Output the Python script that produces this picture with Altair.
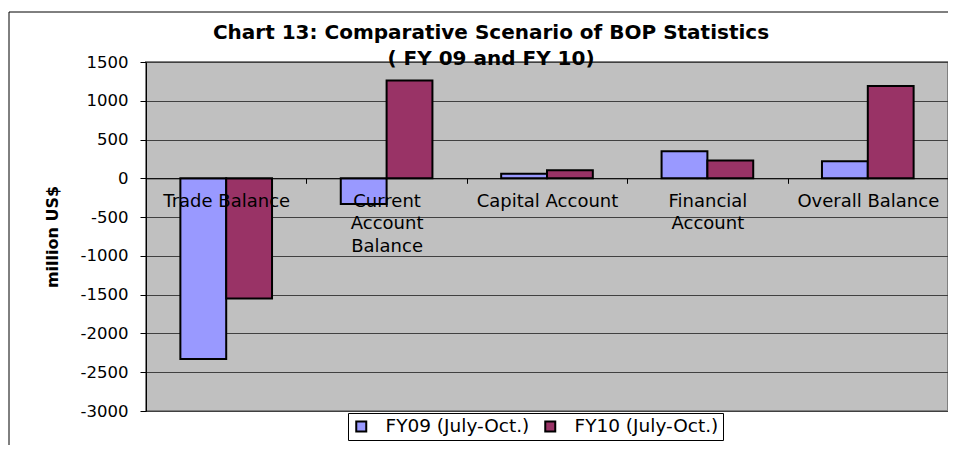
import altair as alt
import pandas as pd

categories = ["Trade Balance", "Current Account Balance", "Capital Account",
              "Financial Account", "Overall Balance"]
series = ["FY09 (July-Oct.)", "FY10 (July-Oct.)"]
fy09 = [-2330, -330, 60, 350, 220]
fy10 = [-1550, 1260, 105, 230, 1190]
y_ticks = [-3000, -2500, -2000, -1500, -1000, -500, 0, 500, 1000, 1500]
colors = ["#9999FF", "#993366"]
title_lines = ["Chart 13: Comparative Scenario of BOP Statistics", "( FY 09 and FY 10)"]

rows = []
for c, a, b in zip(categories, fy09, fy10):
    rows.append({"category": c, "series": series[0], "value": a})
    rows.append({"category": c, "series": series[1], "value": b})
df = pd.DataFrame(rows)

FONT = "DejaVu Sans"
label_expr = ("datum.value == 'Current Account Balance' ? ['Current', 'Account', 'Balance'] : "
              "datum.value == 'Financial Account' ? ['Financial', 'Account'] : datum.value")

bars = alt.Chart(df).mark_bar(stroke="black", strokeWidth=2).encode(
    x=alt.X("category:N", sort=categories,
            scale=alt.Scale(paddingInner=0, paddingOuter=0),
            axis=alt.Axis(title=None, orient="bottom", offset=-232.7, labelAngle=0,
                          labelExpr=label_expr, labelFont=FONT, labelFontSize=18,
                          labelLineHeight=22.5, labelColor="black", labelPadding=9,
                          labelOverlap=False, labelLimit=300, zindex=1,
                          tickBand="extent", tickSize=5, tickColor="black",
                          domainColor="black", domainWidth=1, grid=False)),
    xOffset=alt.XOffset("series:N", sort=series,
                        scale=alt.Scale(paddingOuter=0.75, paddingInner=0)),
    y=alt.Y("value:Q", scale=alt.Scale(domain=[-3000, 1500], nice=False, zero=False),
            axis=alt.Axis(title="million US$", values=y_ticks, labelExpr="datum.value + ''",
                          labelFont=FONT, labelFontSize=16.5, labelColor="black",
                          labelPadding=12, tickSize=6, tickColor="black", domainColor="black",
                          grid=True, gridColor="#404040", gridWidth=1,
                          titleFont=FONT, titleFontSize=16, titleFontWeight="bold",
                          titleColor="black", titlePadding=20)),
    color=alt.Color("series:N", sort=series,
                    scale=alt.Scale(domain=series, range=colors),
                    legend=alt.Legend(title=None, orient="none", legendX=202, legendY=351,
                                      direction="horizontal", symbolType="square",
                                      symbolSize=100, symbolStrokeColor="black",
                                      symbolStrokeWidth=2, labelFont=FONT, labelFontSize=18.5,
                                      labelColor="black", labelOffset=15, columnPadding=11,
                                      padding=4, strokeColor="black", fillColor="white")),
)

frame = alt.Chart(alt.Data(values=[{}])).mark_rect(fill=None, stroke="black", strokeWidth=1).encode(
    x=alt.value(-137), x2=alt.value(900), y=alt.value(-50), y2=alt.value(420)
)

chart = alt.layer(frame, bars).properties(
    width=802, height=349,
    title=alt.TitleParams(text=title_lines, font=FONT, fontSize=20, fontWeight="bold",
                          lineHeight=26, anchor="middle", dx=-56, offset=-57, color="black"),
    autosize=alt.AutoSizeParams(type="none"),
    padding={"left": 138, "top": 54, "right": 0, "bottom": 34},
    background="white",
).configure_view(fill="#C0C0C0", stroke="#808080", strokeWidth=2)

chart.save("out.html", embed_options={"renderer": "svg", "actions": False})
